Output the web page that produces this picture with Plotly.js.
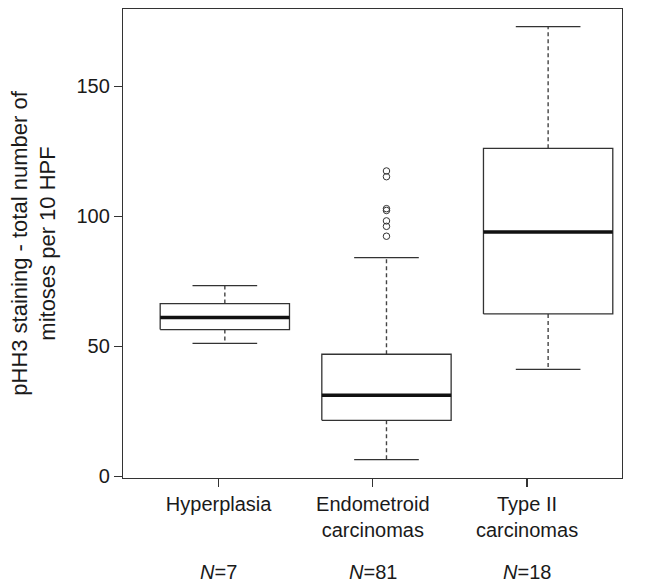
<!DOCTYPE html>
<html>
<head>
<meta charset="utf-8">
<script src="https://cdn.plot.ly/plotly-3.0.1.min.js"></script>
<style>
  html, body { margin: 0; padding: 0; background: #ffffff; }
  #chart { width: 649px; height: 583px; }
</style>
</head>
<body>
<div id="chart"></div>
<script>
// ---- data ----
const categories = ['Hyperplasia', 'Endometroid carcinomas', 'Type II carcinomas'];
const tickLabels = ['Hyperplasia', 'Endometroid<br>carcinomas', 'Type II<br>carcinomas'];
const groupN = [7, 81, 18];
const lowerWhisker = [51.1, 6.4, 41.1];
const q1 = [56.4, 21.5, 62.4];
const medianVal = [61.0, 31.1, 93.9];
const q3 = [66.4, 46.9, 126.1];
const upperWhisker = [73.3, 84.1, 172.9];
const outlierGroup = [2, 2, 2, 2, 2, 2, 2];
const outlierValues = [92.3, 96.1, 98.2, 102.2, 102.9, 115.2, 117.4];
const yTicks = [0, 50, 100, 150];

// ---- styles ----
const FONT = '"Liberation Sans", Arial, Helvetica, sans-serif';
const TXT = '#1a1a1a';
const LINE = '#333333';
const BOXW = 0.8, CAPW = 0.4;

const traces = [];
categories.forEach((c, i) => {
  const p = i + 1;
  const hb = BOXW / 2, hc = CAPW / 2;
  // dashed whiskers
  traces.push({
    type: 'scatter', mode: 'lines', xaxis: 'x2', yaxis: 'y', hoverinfo: 'skip', showlegend: false,
    x: [p, p, null, p, p],
    y: [q3[i], upperWhisker[i], null, q1[i], lowerWhisker[i]],
    line: {color: '#444444', width: 1.4, dash: '4px,3px'}
  });
  // caps
  traces.push({
    type: 'scatter', mode: 'lines', xaxis: 'x2', yaxis: 'y', hoverinfo: 'skip', showlegend: false,
    x: [p - hc, p + hc, null, p - hc, p + hc],
    y: [upperWhisker[i], upperWhisker[i], null, lowerWhisker[i], lowerWhisker[i]],
    line: {color: LINE, width: 1.3}
  });
  // box
  traces.push({
    type: 'scatter', mode: 'lines', xaxis: 'x2', yaxis: 'y', hoverinfo: 'skip', showlegend: false,
    x: [p - hb, p + hb, p + hb, p - hb, p - hb],
    y: [q1[i], q1[i], q3[i], q3[i], q1[i]],
    fill: 'toself', fillcolor: '#ffffff',
    line: {color: LINE, width: 1.3}
  });
  // median
  traces.push({
    type: 'scatter', mode: 'lines', xaxis: 'x2', yaxis: 'y', hoverinfo: 'skip', showlegend: false,
    x: [p - hb, p + hb],
    y: [medianVal[i], medianVal[i]],
    line: {color: '#111111', width: 3.5}
  });
});
// outliers
traces.push({
  type: 'scatter', mode: 'markers', xaxis: 'x2', yaxis: 'y', showlegend: false,
  x: outlierGroup, y: outlierValues,
  marker: {symbol: 'circle-open', size: 6.5, color: LINE, line: {width: 1, color: LINE}}
});

const annotations = groupN.map((n, i) => ({
  xref: 'x', yref: 'paper', x: i + 1, y: -0.201, yanchor: 'middle', xanchor: 'center',
  showarrow: false, text: '<i>N</i>=' + n, font: {family: FONT, size: 20, color: TXT}
}));

const layout = {
  width: 649, height: 583,
  margin: {l: 123, r: 27, t: 9, b: 105, pad: 0},
  paper_bgcolor: '#ffffff', plot_bgcolor: '#ffffff',
  font: {family: FONT, size: 20, color: TXT},
  showlegend: false,
  xaxis: {
    range: [0.38, 3.616], tickmode: 'array', tickvals: [1, 2, 3], ticktext: tickLabels,
    ticks: 'outside', ticklen: 8, tickwidth: 1.2, tickcolor: LINE,
    showgrid: false, zeroline: false, showline: true, mirror: true, linecolor: LINE, linewidth: 1.2,
    tickfont: {family: FONT, size: 20, color: TXT}, fixedrange: true
  },
  xaxis2: {
    range: [0.370, 3.457], overlaying: 'x', visible: false, showgrid: false, zeroline: false, fixedrange: true
  },
  yaxis: {
    range: [-0.7, 179.7], tickmode: 'array', tickvals: yTicks,
    ticks: 'outside', ticklen: 8, tickwidth: 1.2, tickcolor: LINE,
    showgrid: false, zeroline: false, showline: true, mirror: true, linecolor: LINE, linewidth: 1.2,
    tickfont: {family: FONT, size: 20, color: TXT}, fixedrange: true,
    title: {text: 'pHH3 staining - total number of<br>mitoses per 10 HPF', font: {family: FONT, size: 22, color: TXT}, standoff: 14}
  },
  annotations: annotations
};

Plotly.newPlot('chart', traces, layout, {displayModeBar: false, staticPlot: true});
</script>
</body>
</html>
